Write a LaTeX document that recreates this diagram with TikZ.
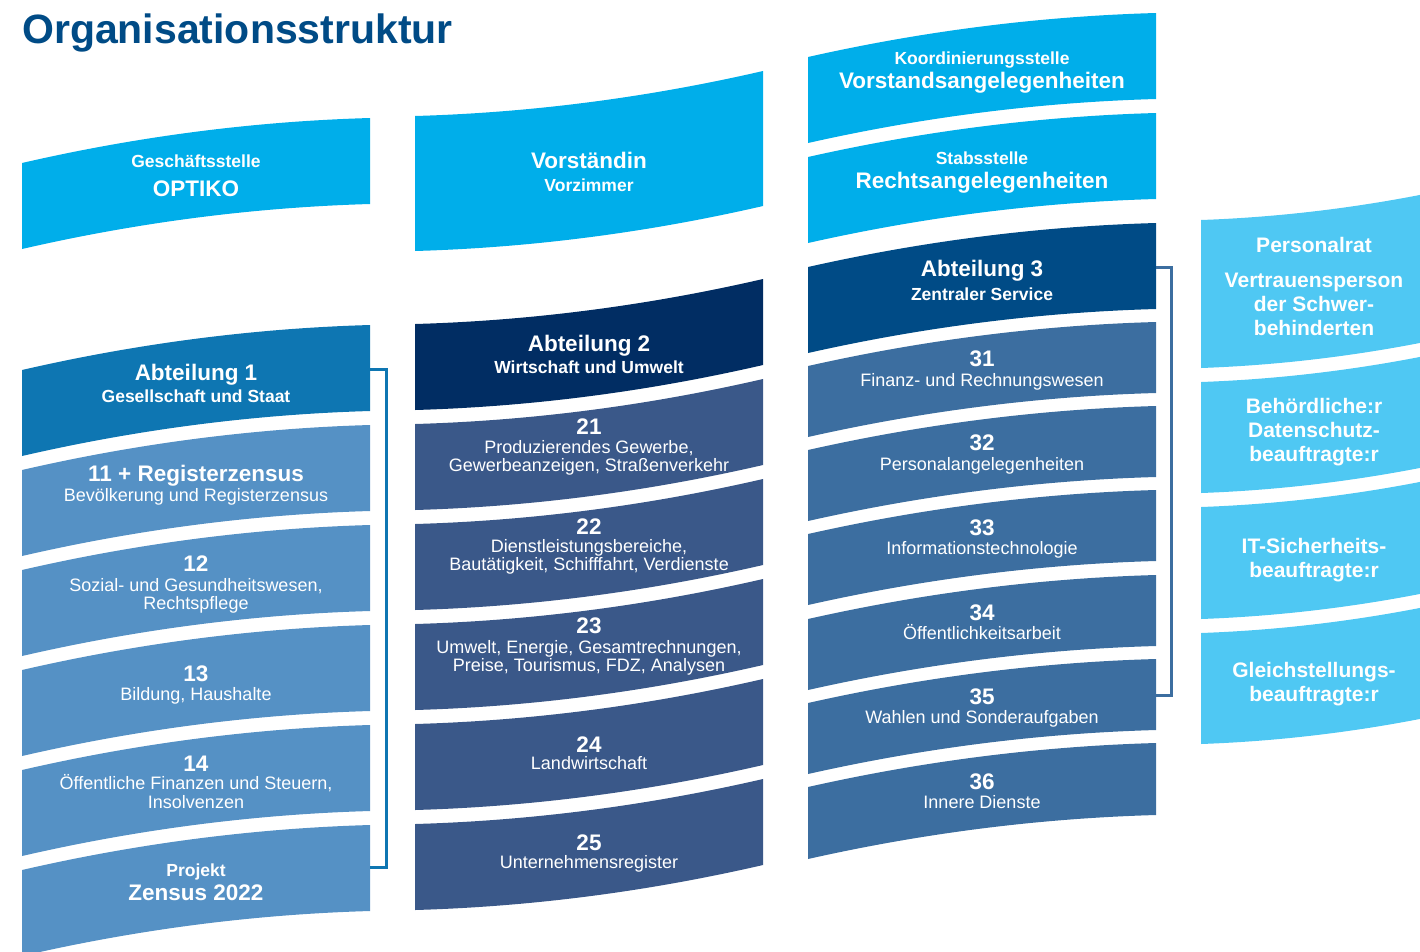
\documentclass[tikz,border=0pt]{standalone}
\usepackage{fontspec}
\setmainfont{Liberation Sans}
\definecolor{cyanA}{HTML}{00AEEA}
\definecolor{cyanB}{HTML}{4FC8F3}
\definecolor{abtA}{HTML}{0E76B2}
\definecolor{subA}{HTML}{5591C5}
\definecolor{abtB}{HTML}{012D63}
\definecolor{subB}{HTML}{3A5889}
\definecolor{abtC}{HTML}{004B86}
\definecolor{subC}{HTML}{3C6EA0}
\definecolor{titleC}{HTML}{004B86}
% #1 x0, #2 top-right y, #3 height, #4 left drop, #5 colour, #6 width
\newcommand\flagboxA[6]{%
  \fill[#5] (#1,#2+#4) .. controls (#1+#6/3,#2+0.407*#4) and (#1+2*#6/3,#2+0.074*#4) .. (#1+#6,#2)
    -- (#1+#6,#2+#3) .. controls (#1+2*#6/3,#2+#3+0.074*#4) and (#1+#6/3,#2+#3+0.407*#4) .. (#1,#2+#3+#4) -- cycle;}
\newcommand\flagboxB[6]{%
  \fill[#5] (#1,#2+#4) .. controls (#1+#6/3,#2+0.926*#4) and (#1+2*#6/3,#2+0.593*#4) .. (#1+#6,#2)
    -- (#1+#6,#2+#3) .. controls (#1+2*#6/3,#2+#3+0.593*#4) and (#1+#6/3,#2+#3+0.926*#4) .. (#1,#2+#3+#4) -- cycle;}
\tikzset{
  txt/.style={text=white, inner sep=0pt, anchor=base},
  hd/.style={txt, font=\bfseries\fontsize{22.5}{24}\selectfont},
  sb/.style={txt, font=\bfseries\fontsize{17.5}{19}\selectfont},
  rg/.style={txt, font=\fontsize{18}{19}\selectfont},
  pr/.style={txt, font=\bfseries\fontsize{21}{23}\selectfont},
  ttl/.style={inner sep=0pt, anchor=base west, text=titleC, font=\bfseries\fontsize{41}{44}\selectfont},
  brk/.style={line width=3pt, line join=miter}
}
\begin{document}
\begin{tikzpicture}[x=1pt,y=-1pt]
\useasboundingbox (0,0) rectangle (1420,951);
\begin{scope}
\clip (0,0) rectangle (1420,951);
% column 1
\flagboxA{22}{118}{86}{45}{cyanA}{348}
\flagboxA{22}{325}{86}{45}{abtA}{348}
\flagboxA{22}{425}{86}{45}{subA}{348}
\flagboxA{22}{525}{86}{45}{subA}{348}
\flagboxA{22}{625}{86}{45}{subA}{348}
\flagboxA{22}{725}{86}{45}{subA}{348}
\flagboxA{22}{825}{86}{45}{subA}{348}
% column 2
\flagboxB{415}{71}{135}{45}{cyanA}{348}
\flagboxB{415}{279}{86}{45}{abtB}{348}
\flagboxB{415}{379}{86}{45}{subB}{348}
\flagboxB{415}{479}{86}{45}{subB}{348}
\flagboxB{415}{579}{86}{45}{subB}{348}
\flagboxB{415}{679}{86}{45}{subB}{348}
\flagboxB{415}{779}{86}{45}{subB}{348}
% column 3
\flagboxA{808}{13}{86}{44}{cyanA}{348}
\flagboxA{808}{113}{86}{44}{cyanA}{348}
\flagboxA{808}{223}{86}{44}{abtC}{348}
\flagboxA{808}{322}{71}{44}{subC}{348}
\flagboxA{808}{406}{71}{44}{subC}{348}
\flagboxA{808}{490}{71}{44}{subC}{348}
\flagboxA{808}{575}{71}{44}{subC}{348}
\flagboxA{808}{659}{71}{44}{subC}{348}
\flagboxA{808}{743}{72}{44}{subC}{348}
% column 4
\flagboxB{1201}{164}{148}{56}{cyanB}{348}
\flagboxB{1201}{326}{111}{56}{cyanB}{348}
\flagboxB{1201}{451}{112}{56}{cyanB}{348}
\flagboxB{1201}{577}{111}{56}{cyanB}{348}
\end{scope}
% brackets
\coordinate (b1top) at (370,369);
\coordinate (b1bot) at (370,867);
\coordinate (b1v) at (386,369);
\draw[brk, abtA] (b1top) -- (b1v) |- (b1bot);
\coordinate (b3top) at (1156,267);
\coordinate (b3bot) at (1156,695);
\coordinate (b3v) at (1171,267);
\draw[brk, subC] (b3top) -- (b3v) |- (b3bot);
% title
\node[ttl] (title) at (22,43) {Organisationsstruktur};
% column 1 texts
\node[sb] (optA) at (196,167) {Geschäftsstelle};
\node[hd] (optB) at (196,196) {OPTIKO};
\node[hd] (a1A) at (196,380) {Abteilung 1};
\node[sb] (a1B) at (196,402) {Gesellschaft und Staat};
\node[hd] (r11A) at (196,481) {11 + Registerzensus};
\node[rg] (r11B) at (196,501) {Bevölkerung und Registerzensus};
\node[hd] (r12A) at (196,571) {12};
\node[rg] (r12B) at (196,591) {Sozial- und Gesundheitswesen,};
\node[rg] (r12C) at (196,609) {Rechtspflege};
\node[hd] (r13A) at (196,681) {13};
\node[rg] (r13B) at (196,700) {Bildung, Haushalte};
\node[hd] (r14A) at (196,771) {14};
\node[rg] (r14B) at (196,789) {Öffentliche Finanzen und Steuern,};
\node[rg] (r14C) at (196,808) {Insolvenzen};
\node[sb] (zA) at (196,876) {Projekt};
\node[hd] (zB) at (196,900) {Zensus 2022};
% column 2 texts
\node[hd] (vA) at (589,168) {Vorständin};
\node[sb] (vB) at (589,191) {Vorzimmer};
\node[hd] (a2A) at (589,351) {Abteilung 2};
\node[sb] (a2B) at (589,373) {Wirtschaft und Umwelt};
\node[hd] (r21A) at (589,434) {21};
\node[rg] (r21B) at (589,453) {Produzierendes Gewerbe,};
\node[rg] (r21C) at (589,471) {Gewerbeanzeigen, Straßenverkehr};
\node[hd] (r22A) at (589,534) {22};
\node[rg] (r22B) at (589,552) {Dienstleistungsbereiche,};
\node[rg] (r22C) at (589,570) {Bautätigkeit, Schifffahrt, Verdienste};
\node[hd] (r23A) at (589,633) {23};
\node[rg] (r23B) at (589,653) {Umwelt, Energie, Gesamtrechnungen,};
\node[rg] (r23C) at (589,671) {Preise, Tourismus, FDZ, Analysen};
\node[hd] (r24A) at (589,752) {24};
\node[rg] (r24B) at (589,769) {Landwirtschaft};
\node[hd] (r25A) at (589,850) {25};
\node[rg] (r25B) at (589,868) {Unternehmensregister};
% column 3 texts
\node[sb] (kA) at (982,64) {Koordinierungsstelle};
\node[hd] (kB) at (982,88) {Vorstandsangelegenheiten};
\node[sb] (sA) at (982,164) {Stabsstelle};
\node[hd] (sB) at (982,188) {Rechtsangelegenheiten};
\node[hd] (a3A) at (982,276) {Abteilung 3};
\node[sb] (a3B) at (982,300) {Zentraler Service};
\node[hd] (r31A) at (982,366) {31};
\node[rg] (r31B) at (982,386) {Finanz- und Rechnungswesen};
\node[hd] (r32A) at (982,450) {32};
\node[rg] (r32B) at (982,470) {Personalangelegenheiten};
\node[hd] (r33A) at (982,535) {33};
\node[rg] (r33B) at (982,554) {Informationstechnologie};
\node[hd] (r34A) at (982,620) {34};
\node[rg] (r34B) at (982,639) {Öffentlichkeitsarbeit};
\node[hd] (r35A) at (982,704) {35};
\node[rg] (r35B) at (982,723) {Wahlen und Sonderaufgaben};
\node[hd] (r36A) at (982,789) {36};
\node[rg] (r36B) at (982,808) {Innere Dienste};
% column 4 texts
\node[pr] (pA) at (1314,252) {Personalrat};
\node[pr] (pB) at (1314,287) {Vertrauensperson};
\node[pr] (pC) at (1314,311) {der Schwer-};
\node[pr] (pD) at (1314,335) {behinderten};
\node[pr] (dA) at (1314,413) {Behördliche:r};
\node[pr] (dB) at (1314,437) {Datenschutz-};
\node[pr] (dC) at (1314,461) {beauftragte:r};
\node[pr] (iA) at (1314,553) {IT-Sicherheits-};
\node[pr] (iB) at (1314,577) {beauftragte:r};
\node[pr] (gA) at (1314,677) {Gleichstellungs-};
\node[pr] (gB) at (1314,701) {beauftragte:r};
\end{tikzpicture}
\end{document}
